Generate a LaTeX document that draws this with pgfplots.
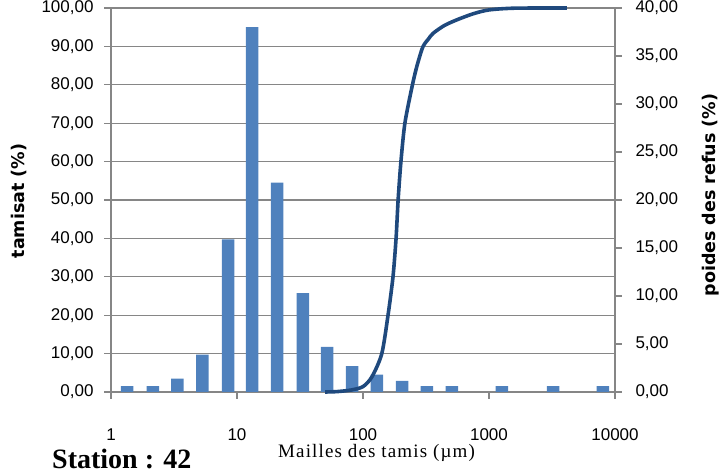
\documentclass[border=0pt]{standalone}
\usepackage{pgfplots}
\pgfplotsset{compat=1.18}
\usepackage{fontspec}
\setmainfont{Liberation Sans}
\newfontfamily\titlefont{DejaVu Sans}
\newfontfamily\seriffont{Liberation Serif}
\definecolor{barblue}{RGB}{79,129,189}
\definecolor{lineblue}{RGB}{31,73,125}
\definecolor{gridgray}{RGB}{134,134,134}

\pgfplotsset{
  baseaxis/.style={
    scale only axis, width=504pt, height=384pt,
    at={(111pt,84pt)}, anchor=south west,
    xmin=1, xmax=10000, ymin=0,
    xminorticks=false, yminorticks=false,
    axis line style={gridgray, line width=1.2pt},
    tick style={gridgray, line width=1.2pt},
    tick align=outside, major tick length=7pt,
    tick label style={font=\fontsize{17}{17}\selectfont, text=black},
    xtick={1,10,100,1000,10000},
    xticklabels={1,10,100,1000,10000},
    yticklabel style={/pgf/number format/fixed, /pgf/number format/fixed zerofill,
    /pgf/number format/precision=2, /pgf/number format/use comma,
    /pgf/number format/assume math mode=true},
  }
}

\begin{document}
\begin{tikzpicture}[x=1pt,y=1pt]
\path[use as bounding box] (0,0) rectangle (723,476);
\clip (0,0) rectangle (723,476);

% left axis with grid
\begin{semilogxaxis}[baseaxis, ymax=100, ytick={0,10,...,100},
  axis y line*=left, axis x line*=bottom,
  ymajorgrids, grid style={gridgray, line width=1.2pt},
  xticklabel style={yshift=-26pt},
  yticklabel style={xshift=-7pt}]
\addplot[draw=none] coordinates {(1,0) (10000,100)};
\end{semilogxaxis}

% right axis with bars (poides des refus)
\begin{semilogxaxis}[baseaxis, ymax=40, ytick={0,5,...,40},
  axis y line*=right, axis x line=none,
  yticklabel style={xshift=10pt},
  ybar, bar width=12.5pt]
\addplot[fill=barblue, draw=none] coordinates {
 (1.34,0.6) (2.15,0.6) (3.37,1.4) (5.32,3.9) (8.49,15.9) (13.2,38.0)
 (20.8,21.8) (33.4,10.3) (51.8,4.7) (81.8,2.7) (129,1.8) (204,1.15)
 (322,0.6) (508,0.6) (1268,0.6) (3221,0.6) (8030,0.6)
};
\end{semilogxaxis}

% tamisat curve on left scale
\begin{semilogxaxis}[baseaxis, ymax=100, hide axis, clip=false]
\addplot[lineblue, line width=3.6pt, smooth, tension=0.45] coordinates {
 (50,0) (62,0.1) (80,0.5) (100,1.4) (118,4) (141,10) (158,20) (173,30)
 (183,40) (190,50) (200,60) (215,70) (245,79.5) (267,84.7) (298,89.8)
 (330,91.9) (360,93.4) (440,95.4) (554,96.9) (750,98.5) (1000,99.5) (1600,99.95) (4150,100)
};
\end{semilogxaxis}

\node[rotate=90, font=\titlefont\bfseries\fontsize{17.5}{17.5}\selectfont] at (19,275) {tamisat (\%)};
\node[rotate=90, font=\titlefont\bfseries\fontsize{17.5}{17.5}\selectfont] at (711,281) {poides des refus (\%)};
\node[anchor=base, font=\seriffont\addfontfeature{LetterSpace=6}\fontsize{19}{19}\selectfont] at (376.5,18.3) {Mailles des tamis (µm)};
\node[anchor=base west, inner sep=0pt, font=\seriffont\bfseries\fontsize{28}{28}\selectfont] at (52,7) {Station : 42};
\end{tikzpicture}
\end{document}
